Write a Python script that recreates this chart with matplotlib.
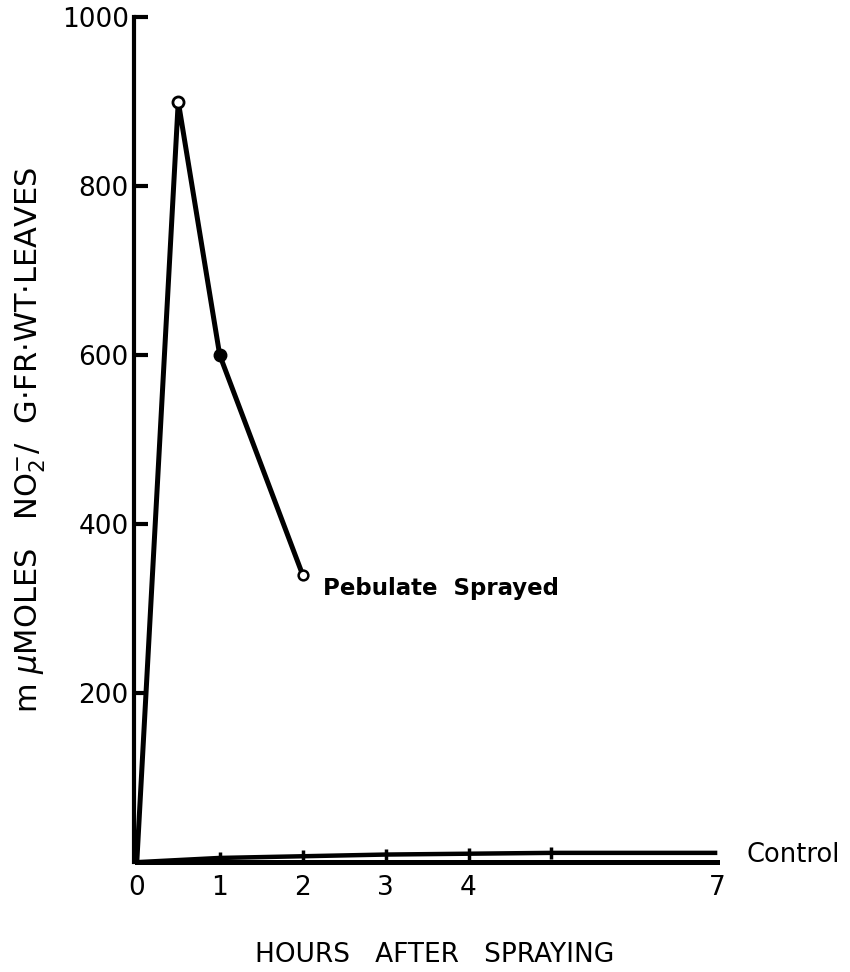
import matplotlib
matplotlib.use("Agg")
import matplotlib.pyplot as plt

# Pebulate sprayed leaves: nitrite content after spraying
peb_hours = [0, 0.5, 1, 2]
peb_nitrite = [0, 900, 600, 340]

# Control leaves
ctl_hours = [0, 1, 2, 3, 4, 5, 7]
ctl_nitrite = [0, 5, 7, 9, 10, 11, 11]

xticks = [0, 1, 2, 3, 4, 7]
yticks = [200, 400, 600, 800, 1000]

fig = plt.figure(figsize=(8.5, 9.72), dpi=100)
ax = fig.add_axes([0.158, 0.113, 0.842, 0.8695])

# the sprayed curve
ax.plot(peb_hours, peb_nitrite, color="black", lw=3.6, solid_capstyle="round",
        solid_joinstyle="round", zorder=3)
ax.plot(peb_hours[1], peb_nitrite[1], "o", ms=8, mfc="white", mec="black", mew=2, zorder=4)
ax.plot(peb_hours[2], peb_nitrite[2], "o", ms=9, mfc="black", mec="black", zorder=4)
ax.plot(peb_hours[3], peb_nitrite[3], "o", ms=7, mfc="white", mec="black", mew=1.8, zorder=4)

# the control curve
ax.plot(ctl_hours, ctl_nitrite, color="black", lw=3.2, solid_capstyle="butt", zorder=3)
ax.plot(ctl_hours[1:-1], ctl_nitrite[1:-1], "|", ms=8, mew=2.5, color="black", zorder=3)

ax.text(2.24, 324, "Pebulate  Sprayed", fontsize=16.5, fontweight="bold", va="center", ha="left")
ax.text(7.35, 8, "Control", fontsize=18.5, va="center", ha="left")

ax.set_xlim(-0.03, 8.6)
ax.set_ylim(0, 1000)
ax.spines["top"].set_visible(False)
ax.spines["right"].set_visible(False)
ax.spines["left"].set_linewidth(3)
ax.spines["bottom"].set_linewidth(3.6)
ax.spines["bottom"].set_bounds(0, 7)

ax.set_xticks(xticks)
ax.set_xticklabels([str(t) for t in xticks])
ax.set_yticks(yticks)
ax.set_yticklabels([str(t) for t in yticks])
ax.tick_params(axis="y", direction="in", length=10, width=3, labelsize=19, pad=4)
ax.tick_params(axis="x", length=0, labelsize=19, pad=9)

ax.set_xlabel("HOURS   AFTER   SPRAYING", fontsize=19)
ax.xaxis.set_label_coords(0.42, -0.095)
ax.set_ylabel(r"m $\mu$MOLES   NO$_2^{-}$/  G$\cdot$FR$\cdot$WT$\cdot$LEAVES", fontsize=22)
ax.yaxis.set_label_coords(-0.12, 0.5)

fig.savefig("out.png", dpi=100)
